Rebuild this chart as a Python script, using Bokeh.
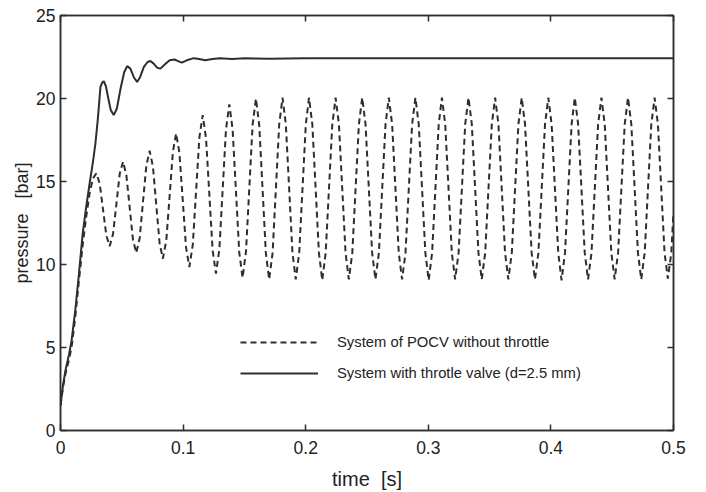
from bokeh.plotting import figure
from bokeh.models import Range1d, LinearAxis, Legend, LegendItem, FixedTicker
from bokeh.embed import file_html
from bokeh.resources import INLINE

# ---- data ----
x_ticks = [0.0, 0.1, 0.2, 0.3, 0.4, 0.5]
x_tick_labels = ["0", "0.1", "0.2", "0.3", "0.4", "0.5"]
y_ticks = [0, 5, 10, 15, 20, 25]

series_names = ["System of POCV without throttle",
                "System with throtle valve (d=2.5 mm)"]

# dashed: system of POCV without throttle
pocv_t = [
    0.0000, 0.0020, 0.0040, 0.0070, 0.0090, 0.0120, 0.0150, 0.0180, 0.0210, 0.0240, 0.0266,
    0.0293, 0.0320, 0.0347, 0.0374, 0.0401, 0.0429, 0.0456, 0.0483,
    0.0510, 0.0537, 0.0564, 0.0591, 0.0618, 0.0646, 0.0673, 0.0700,
    0.0727, 0.0754, 0.0781, 0.0808, 0.0835, 0.0863, 0.0890, 0.0917,
    0.0943, 0.0970, 0.0997, 0.1024, 0.1051, 0.1079, 0.1106, 0.1133,
    0.1160, 0.1187, 0.1214, 0.1241, 0.1268, 0.1296, 0.1323, 0.1350,
    0.1377, 0.1404, 0.1431, 0.1458, 0.1485, 0.1513, 0.1540, 0.1567,
    0.1594, 0.1621, 0.1648, 0.1675, 0.1702, 0.1730, 0.1757, 0.1784,
    0.1811, 0.1838, 0.1865, 0.1892, 0.1919, 0.1947, 0.1974, 0.2001,
    0.2027, 0.2054, 0.2081, 0.2108, 0.2135, 0.2163, 0.2190, 0.2217,
    0.2244, 0.2271, 0.2298, 0.2325, 0.2352, 0.2380, 0.2407, 0.2434,
    0.2461, 0.2488, 0.2515, 0.2542, 0.2569, 0.2597, 0.2624, 0.2651,
    0.2678, 0.2705, 0.2732, 0.2759, 0.2786, 0.2814, 0.2841, 0.2868,
    0.2895, 0.2922, 0.2949, 0.2976, 0.3003, 0.3031, 0.3058, 0.3085,
    0.3111, 0.3138, 0.3165, 0.3192, 0.3219, 0.3247, 0.3274, 0.3301,
    0.3328, 0.3355, 0.3382, 0.3409, 0.3436, 0.3464, 0.3491, 0.3518,
    0.3545, 0.3572, 0.3599, 0.3626, 0.3653, 0.3681, 0.3708, 0.3735,
    0.3762, 0.3789, 0.3816, 0.3843, 0.3870, 0.3898, 0.3925, 0.3952,
    0.3979, 0.4006, 0.4033, 0.4060, 0.4087, 0.4115, 0.4142, 0.4169,
    0.4195, 0.4222, 0.4249, 0.4276, 0.4303, 0.4331, 0.4358, 0.4385,
    0.4412, 0.4439, 0.4466, 0.4493, 0.4520, 0.4548, 0.4575, 0.4602,
    0.4629, 0.4656, 0.4683, 0.4710, 0.4737, 0.4765, 0.4792, 0.4819,
    0.4846, 0.4873, 0.4900, 0.4927, 0.4954, 0.4982, 0.5000,
]
pocv_p = [
    1.50, 2.60, 3.40, 4.30, 5.00, 6.80, 9.00, 11.10, 12.90, 14.40, 15.20,
    15.50, 14.86, 13.30, 11.74, 11.10, 11.85, 13.65, 15.46,
    16.20, 15.40, 13.45, 11.50, 10.70, 11.60, 13.78, 15.95,
    16.85, 15.90, 13.60, 11.30, 10.35, 11.45, 14.13, 16.80,
    17.90, 16.72, 13.88, 11.03, 9.85, 11.19, 14.43, 17.66,
    19.00, 17.61, 14.23, 10.84, 9.45, 10.94, 14.55, 18.16,
    19.65, 18.12, 14.43, 10.73, 9.20, 10.78, 14.60, 18.42,
    20.00, 18.41, 14.55, 10.69, 9.10, 10.70, 14.58, 18.45,
    20.05, 18.45, 14.58, 10.70, 9.10, 10.70, 14.58, 18.45,
    20.05, 18.45, 14.58, 10.70, 9.05, 10.70, 14.58, 18.45,
    20.05, 18.45, 14.58, 10.70, 9.10, 10.70, 14.58, 18.45,
    20.05, 18.45, 14.58, 10.70, 9.10, 10.70, 14.58, 18.45,
    20.05, 18.45, 14.58, 10.70, 9.10, 10.70, 14.58, 18.45,
    20.05, 18.45, 14.58, 10.70, 9.05, 10.70, 14.58, 18.45,
    20.05, 18.45, 14.58, 10.70, 9.10, 10.70, 14.58, 18.45,
    20.05, 18.45, 14.58, 10.70, 9.10, 10.70, 14.58, 18.45,
    20.05, 18.45, 14.58, 10.70, 9.10, 10.70, 14.58, 18.45,
    20.05, 18.45, 14.58, 10.70, 9.10, 10.70, 14.58, 18.45,
    20.05, 18.45, 14.58, 10.70, 9.05, 10.70, 14.58, 18.45,
    20.05, 18.45, 14.58, 10.70, 9.10, 10.70, 14.58, 18.45,
    20.05, 18.45, 14.58, 10.70, 9.10, 10.70, 14.58, 18.45,
    20.05, 18.45, 14.58, 10.70, 9.10, 10.70, 14.58, 18.45,
    20.05, 18.45, 14.58, 10.70, 9.15, 10.70, 13.16,
]

# solid: system with throttle valve (d=2.5 mm)
thr_t = [
    0.0000, 0.0020, 0.0040, 0.0070, 0.0090, 0.0120, 0.0150, 0.0180, 0.0210, 0.0240,
    0.0265, 0.0285, 0.0305, 0.0326, 0.0340, 0.0353, 0.0370, 0.0390, 0.0410, 0.0434,
    0.0460, 0.0490, 0.0520, 0.0544, 0.0570, 0.0600, 0.0625, 0.0650, 0.0680, 0.0710,
    0.0733, 0.0760, 0.0790, 0.0815, 0.0850, 0.0890, 0.0930, 0.0960, 0.0990, 0.1030,
    0.1087, 0.1130, 0.1180, 0.1240, 0.1300, 0.1400, 0.1500, 0.1700, 0.2000, 0.3000,
    0.4000, 0.5000,
]
thr_p = [
    1.50, 2.70, 3.60, 4.60, 5.40, 7.20, 9.40, 11.80, 13.50, 15.00,
    16.20, 17.30, 18.80, 20.70, 20.95, 21.05, 20.75, 20.00, 19.30, 19.00,
    19.40, 20.60, 21.60, 21.95, 21.80, 21.25, 21.00, 21.30, 21.90, 22.20,
    22.26, 22.10, 21.85, 21.80, 22.05, 22.30, 22.35, 22.25, 22.16, 22.30,
    22.43, 22.38, 22.30, 22.38, 22.42, 22.38, 22.42, 22.40, 22.42, 22.42,
    22.42, 22.42,
]

INK = "#2e2e2e"
FONT = "Liberation Sans"
NB = "\u00a0"

p = figure(width=690, height=492,
           x_range=Range1d(0, 0.5), y_range=Range1d(0, 25),
           output_backend="svg", toolbar_location=None,
           min_border_left=60, min_border_right=17,
           min_border_top=15, min_border_bottom=59,
           background_fill_color="white", border_fill_color="white")
p.grid.visible = False
p.outline_line_color = INK
p.outline_line_width = 1.5

xax = p.xaxis[0]
yax = p.yaxis[0]
xax.ticker = FixedTicker(ticks=x_ticks)
xax.major_label_overrides = {t: l for t, l in zip(x_ticks, x_tick_labels)}
yax.ticker = FixedTicker(ticks=y_ticks)
xax.axis_label = "time" + NB + NB + "[s]"
yax.axis_label = "pressure" + NB + NB + NB + "[bar]"

for ax in (xax, yax):
    ax.axis_line_color = INK
    ax.axis_line_width = 1.5
    ax.major_tick_in = 6
    ax.major_tick_out = 0
    ax.major_tick_line_color = INK
    ax.major_tick_line_width = 1.5
    ax.minor_tick_line_color = None
    ax.major_label_text_font = FONT
    ax.major_label_text_font_size = "17.5px"
    ax.major_label_text_color = "#222222"
    ax.axis_label_text_font = FONT
    ax.axis_label_text_font_style = "normal"
    ax.axis_label_text_color = "#222222"

xax.major_label_standoff = 10
xax.axis_label_standoff = 11
xax.axis_label_text_font_size = "20px"
yax.major_label_standoff = 5
yax.axis_label_standoff = 1
yax.axis_label_text_font_size = "18px"

for loc, ticks in (("right", y_ticks), ("above", x_ticks)):
    ax = LinearAxis(ticker=FixedTicker(ticks=ticks))
    ax.major_label_overrides = {t: "" for t in ticks}
    ax.axis_line_color = INK
    ax.axis_line_width = 1.5
    ax.major_tick_in = 6
    ax.major_tick_out = 0
    ax.major_tick_line_color = INK
    ax.major_tick_line_width = 1.5
    ax.minor_tick_line_color = None
    ax.major_label_standoff = 0
    p.add_layout(ax, loc)

r1 = p.line(pocv_t, pocv_p, line_color=INK, line_width=2, line_dash="6 4")
r2 = p.line(thr_t, thr_p, line_color=INK, line_width=2)

legend = Legend(
    items=[LegendItem(label=series_names[0], renderers=[r1]),
           LegendItem(label=series_names[1], renderers=[r2])],
    location=(180, 47), glyph_width=78, glyph_height=20, label_height=20,
    spacing=11, label_standoff=19, padding=0, margin=0,
    border_line_alpha=0, background_fill_alpha=0,
    label_text_font=FONT, label_text_font_size="14.8px",
    label_text_color="#222222")
p.add_layout(legend)

open("out.html", "w").write(file_html(p, INLINE))
